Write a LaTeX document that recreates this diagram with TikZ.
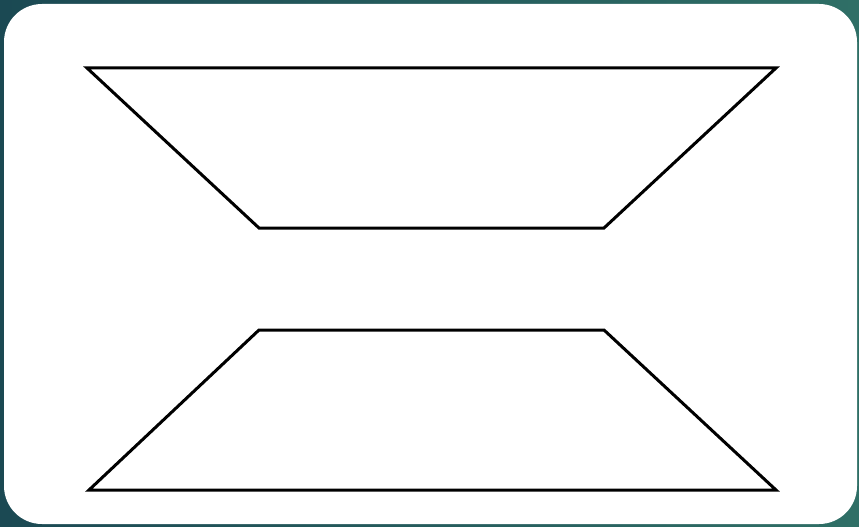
\documentclass[tikz,border=0pt]{standalone}
\definecolor{bgleft}{HTML}{1B4953}
\definecolor{bgright}{HTML}{2F6F66}
\begin{document}
\begin{tikzpicture}[x=1pt,y=-1pt,
  trap/.style={draw=black,line width=3pt,line join=miter,fill=white}]
\shade[left color=bgleft,right color=bgright] (0,0) rectangle (859,527);
\useasboundingbox (0,0) rectangle (859,527);
\fill[white,rounded corners=38pt] (4,4) rectangle (857,524);
\coordinate (a1) at (87,68);
\coordinate (a2) at (776,68);
\coordinate (a3) at (604,228);
\coordinate (a4) at (259,228);
\draw[trap] (a1) -- (a2) -- (a3) -- (a4) -- cycle;
\coordinate (b1) at (259,330);
\coordinate (b2) at (604,330);
\coordinate (b3) at (776,490);
\coordinate (b4) at (89,490);
\draw[trap] (b1) -- (b2) -- (b3) -- (b4) -- cycle;
\end{tikzpicture}
\end{document}
